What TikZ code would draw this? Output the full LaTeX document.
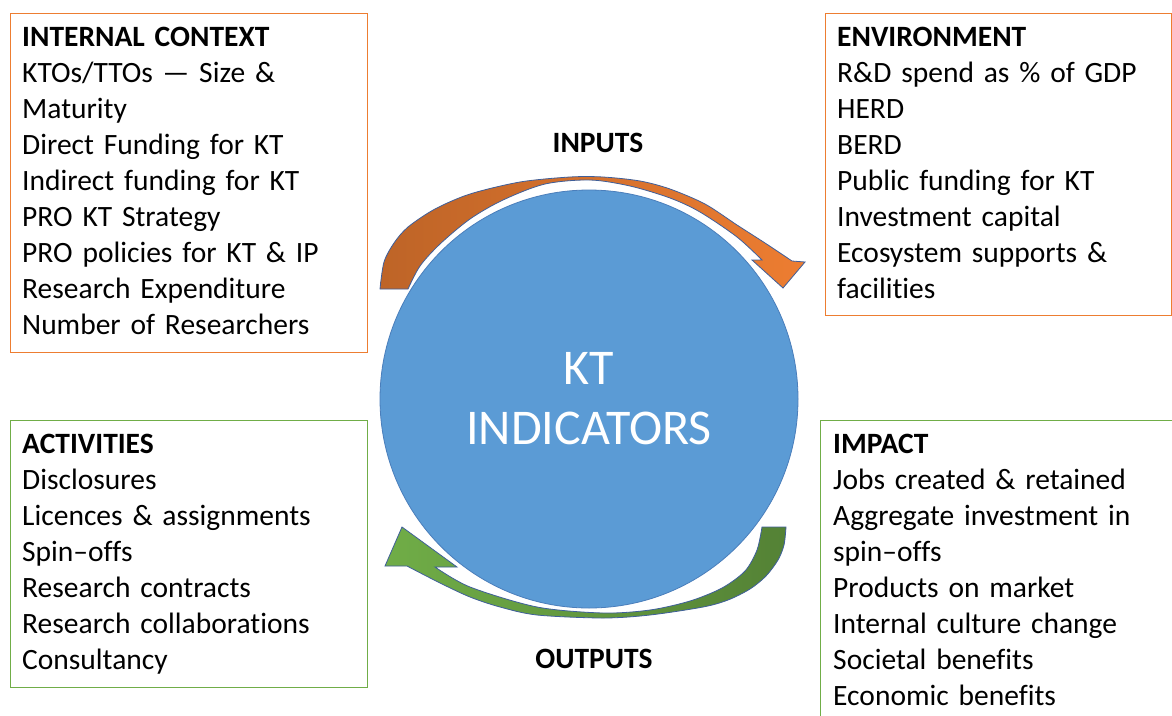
\documentclass[tikz,border=0pt]{standalone}
\usepackage{fontspec}
\setmainfont{Carlito}[Ligatures=NoCommon]
\usepackage{tikz}
\usetikzlibrary{positioning}
\definecolor{ctxorange}{HTML}{ED7D31}
\definecolor{actgreen}{HTML}{70AD47}
\definecolor{ktblue}{HTML}{5B9BD5}
\definecolor{ktrim}{HTML}{4A7EBB}
\definecolor{arrowrim}{HTML}{3F5F9A}
\tikzset{frame/.style = {draw,line width=1.4pt,inner sep=0pt,anchor=north west},
         list/.style = {anchor=base west,inner sep=0pt,text width=340pt,align=left,
                        font=\fontsize{29.5}{36}\selectfont},
         tag/.style = {anchor=base,inner sep=0pt,font=\fontsize{29.5}{36}\selectfont\bfseries}}

\begin{document}
\begin{tikzpicture}[x=1pt,y=-1pt]
            \useasboundingbox (0,0) rectangle (1172,715);
            \fill[white] (0,0) rectangle (1172,715);
            % boxes
            \node[frame,draw=ctxorange,minimum width=357pt,minimum height=339pt] (ctxbox) at (10,13) {};
            \node[frame,draw=ctxorange,minimum width=346pt,minimum height=302pt] (envbox) at (825,13) {};
            \node[frame,draw=actgreen,minimum width=357pt,minimum height=267pt] (actbox) at (10,420) {};
            \node[frame,draw=actgreen,minimum width=400pt,minimum height=340pt] (impbox) at (820,420) {};
            \node[list] (ctx) at (22,46) {\textbf{INTERNAL CONTEXT}\\ KTOs/TTOs — Size \&\\ Maturity\\
                Direct Funding for KT\\ Indirect funding for KT\\ PRO KT Strategy\\
                PRO policies for KT \& IP\\ Research Expenditure\\ Number of Researchers};
            \node[list] (env) at (837,46) {\textbf{ENVIRONMENT}\\ R\&D spend as \% of GDP\\ HERD\\ BERD\\
                Public funding for KT\\ Investment capital\\ Ecosystem supports \&\\ facilities};
            \node[list] (act) at (22,453) {\textbf{ACTIVITIES}\\ Disclosures\\ Licences \& assignments\\
                Spin–offs\\ Research contracts\\ Research collaborations\\ Consultancy};
            \node[list] (imp) at (833,453) {\textbf{IMPACT}\\ Jobs created \& retained\\ Aggregate investment in\\
                spin–offs\\ Products on market\\ Internal culture change\\ Societal benefits\\ Economic benefits};
            % centre
            \node[circle,fill=ktblue,draw=ktrim,line width=0.8pt,minimum size=418pt,inner sep=0pt,
                  text=white,align=center,font=\fontsize{50}{60}\selectfont] (kt) at (589,399) {KT\\INDICATORS};
            \node[tag] (inputs) at (598,152) {INPUTS};
            \node[tag] (outputs) at (594,668) {OUTPUTS};
            % curved arrows
            \shadedraw[left color=ctxorange!80!black,right color=ctxorange,draw=arrowrim,line width=0.8pt]
                plot[smooth] coordinates {(380,289) (384,262) (394,243) (408,227) (435,209) (470,194)
                    (520,182) (570,177) (603,177) (640,181) (670,189) (705,204) (737,225) (765,243) (792,261)}
                -- (805,262) -- (783,288) -- (752,260) --
                plot[smooth] coordinates {(762,260) (737,237) (700,212) (670,198) (630,186) (590,180)
                    (545,184) (503,200) (470,219) (440,244) (420,266) (408,289)} -- cycle;
            \shadedraw[left color=actgreen,right color=actgreen!75!black,draw=arrowrim,line width=0.8pt]
                plot[smooth] coordinates {(786,527) (784,545) (778,560) (766,576) (750,589) (728,600)
                    (703,607) (650,615) (603,618) (537,615) (500,607) (470,597) (440,583) (407,566)}
                -- (385,566) -- (402,527) -- (457,567) --
                plot[smooth] coordinates {(435,567) (470,587) (537,607) (603,613) (650,610) (690,601)
                    (722,588) (745,571) (757,550) (762,527)} -- cycle;
        \end{tikzpicture}
\end{document}
